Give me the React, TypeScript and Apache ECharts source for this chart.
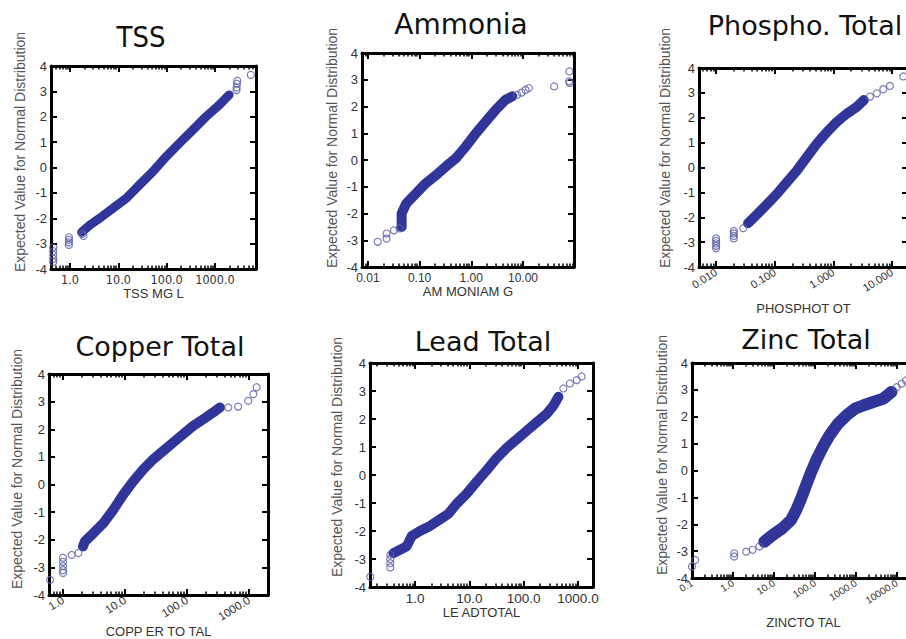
import React, { useEffect, useRef } from "react";
import * as echarts from "echarts";

type Pt = [number, number];

// ---------------- data ----------------
const titles = ["TSS", "Ammonia", "Phospho. Total", "Copper Total", "Lead Total", "Zinc Total"];
const xNames = ["TSS MG L", "AM MONIAM G", "PHOSPHOT OT", "COPP ER TO TAL", "LE ADTOTAL", "ZINCTO TAL"];
const yName = "Expected Value for Normal Distribution";
const yMin = -4;
const yMax = 4;
const yStep = 1;
const xRanges: Pt[] = [
  [0.404, 7060],
  [0.0077, 97],
  [0.0051, 18.7],
  [0.594, 2030],
  [0.148, 1890],
  [0.1, 27500],
];
const xDecimals = [1, 2, 3, 1, 1, 1];
// minor tick multipliers inside each decade
const minorSteps = [2, 3, 4, 5, 6, 7, 8, 9];

// dense band of overlapping circles (centre line of the band)
const tssBand: Pt[] = [
  [1.74, -2.55], [2.6, -2.26], [4.1, -2.0], [7.8, -1.6], [14.7, -1.21], [27.6, -0.68],
  [52, -0.16], [98, 0.43], [184, 0.96], [347, 1.48], [650, 2.0], [1230, 2.47], [1960, 2.86],
];
const tssPts: Pt[] = [
  [0.45, -3.15], [0.45, -3.3], [0.45, -3.45], [0.45, -3.6], [0.45, -3.72],
  [0.95, -2.75], [0.95, -2.85], [0.95, -2.95], [0.95, -3.05],
  [1.78, -2.62], [1.9, -2.7],
  [2800, 3.05], [2800, 3.15], [2850, 3.3], [2900, 3.42], [5500, 3.65],
];

const nh3Band: Pt[] = [
  [0.045, -2.5], [0.045, -2.0], [0.055, -1.63], [0.085, -1.25], [0.13, -0.88], [0.21, -0.56],
  [0.32, -0.25], [0.5, 0.06], [0.78, 0.5], [1.23, 1.0], [1.91, 1.44], [2.98, 1.88],
  [4.6, 2.25], [6.2, 2.38],
];
const nh3Pts: Pt[] = [
  [0.0155, -3.06], [0.023, -2.75], [0.023, -2.94], [0.032, -2.63], [0.041, -2.56],
  [7.7, 2.44], [9.4, 2.52], [11.2, 2.62], [13, 2.69],
  [40, 2.75], [78, 2.94], [79, 3.31], [80, 2.88],
];

const phosBand: Pt[] = [
  [0.035, -2.24], [0.049, -1.9], [0.073, -1.49], [0.107, -1.08], [0.158, -0.61], [0.235, -0.14],
  [0.35, 0.41], [0.52, 0.95], [0.77, 1.42], [1.14, 1.83], [1.7, 2.17], [2.5, 2.44], [3.3, 2.71],
];
const phosPts: Pt[] = [
  [0.01, -2.85], [0.01, -2.95], [0.01, -3.05], [0.01, -3.15], [0.01, -3.25],
  [0.02, -2.55], [0.02, -2.65], [0.02, -2.75], [0.02, -2.85], [0.029, -2.44],
  [4.2, 2.85], [5.5, 2.98], [7.1, 3.15], [9.2, 3.28], [15.5, 3.66],
];

const cuBand: Pt[] = [
  [2.1, -2.24], [2.26, -2.06], [3.1, -1.76], [4.5, -1.39], [6.5, -0.91], [9.4, -0.36],
  [13.6, 0.12], [19.8, 0.55], [28.5, 0.91], [41, 1.21], [60, 1.52], [87, 1.82],
  [126, 2.12], [182, 2.36], [265, 2.61], [340, 2.79],
];
const cuPts: Pt[] = [
  [1.0, -2.65], [1.0, -2.8], [1.0, -2.95], [1.0, -3.1], [1.0, -3.2], [0.62, -3.45],
  [1.38, -2.55], [1.77, -2.48],
  [465, 2.79], [670, 2.82], [975, 3.03], [1180, 3.27], [1330, 3.52],
];

const pbBand: Pt[] = [
  [0.4, -2.79], [0.53, -2.67], [0.7, -2.55], [0.87, -2.18], [1.23, -2.0], [1.89, -1.82],
  [2.9, -1.58], [4.1, -1.39], [5.8, -1.03], [8.9, -0.67], [13.6, -0.24], [21, 0.18],
  [32, 0.61], [49, 0.97], [74, 1.27], [114, 1.58], [173, 1.88], [265, 2.18], [354, 2.48], [436, 2.79],
];
const pbPts: Pt[] = [
  [0.35, -2.85], [0.35, -3.0], [0.35, -3.15], [0.35, -3.3], [0.15, -3.64],
  [537, 3.09], [710, 3.27], [950, 3.39], [1170, 3.52],
];

const znBand: Pt[] = [
  [5.8, -2.65], [9.3, -2.4], [16, -2.15], [26, -1.84], [35, -1.47], [46, -1.04], [61, -0.54],
  [81, -0.05], [107, 0.38], [156, 0.88], [227, 1.31], [363, 1.74], [584, 2.05], [940, 2.3],
  [1490, 2.42], [2620, 2.55], [4600, 2.67], [7330, 2.92],
];
const znPts: Pt[] = [
  [0.12, -3.33], [0.1, -3.57], [1.07, -3.08], [1.07, -3.2], [2.1, -3.02], [3.0, -2.95], [4.4, -2.83],
  [9800, 3.1], [13000, 3.23], [16600, 3.35],
];

const bands: Pt[][] = [tssBand, nh3Band, phosBand, cuBand, pbBand, znBand];
const points: Pt[][] = [tssPts, nh3Pts, phosPts, cuPts, pbPts, znPts];

// ---------------- layout & style ----------------
const layouts = [
  { left: 51, top: 66, width: 205, height: 203, titleX: 141, titleY: 37, yNameX: 20, yNameY: 152, rotate: 0, labelSize: 12.5, labelMargin: 4, nameGap: 17, narrow: true, bandW: 9 },
  { left: 362, top: 53, width: 212, height: 214, titleX: 461, titleY: 24, yNameX: 332, yNameY: 148, rotate: 0, labelSize: 12, labelMargin: 5, nameGap: 18, narrow: false, bandW: 10 },
  { left: 699, top: 68, width: 209, height: 199, titleX: 805, titleY: 25, yNameX: 665, yNameY: 148, rotate: 32, labelSize: 11, labelMargin: 4, nameGap: 35, narrow: false, bandW: 10 },
  { left: 49, top: 374, width: 219, height: 221, titleX: 160, titleY: 346, yNameX: 17, yNameY: 469, rotate: 32, labelSize: 11.5, labelMargin: 4, nameGap: 27, narrow: false, bandW: 10 },
  { left: 370, top: 363, width: 223, height: 224, titleX: 483, titleY: 341, yNameX: 337, yNameY: 457, rotate: 0, labelSize: 13.5, labelMargin: 4, nameGap: 18, narrow: false, bandW: 10 },
  { left: 692, top: 363, width: 223, height: 215, titleX: 806, titleY: 339, yNameX: 662, yNameY: 455, rotate: 32, labelSize: 10, labelMargin: 4, nameGap: 38, narrow: false, bandW: 12 },
];

const BAND = "#313599";
const RING = "#5a5fa8";
const ARIAL = "'Liberation Sans', Arial, sans-serif";
const NARROW = "'Liberation Sans Narrow', 'Arial Narrow', 'DejaVu Sans Condensed', sans-serif";
const GOTHIC = "'DejaVu Sans', sans-serif";

const pow10Label = (d: number) => (v: number) => {
  const l = Math.log10(v);
  return Math.abs(l - Math.round(l)) < 1e-6 ? Math.pow(10, Math.round(l)).toFixed(d) : "";
};

function minorValues(range: Pt): number[] {
  const out: number[] = [];
  const k0 = Math.floor(Math.log10(range[0]));
  const k1 = Math.ceil(Math.log10(range[1]));
  for (let k = k0; k <= k1; k++) {
    for (const m of minorSteps) {
      const v = m * Math.pow(10, k);
      if (v > range[0] && v < range[1]) out.push(v);
    }
  }
  return out;
}

function buildOption() {
  const grid: any[] = [];
  const xAxis: any[] = [];
  const yAxis: any[] = [];
  const series: any[] = [];
  const graphic: any[] = [];
  const frame = { show: true, onZero: false, lineStyle: { color: "#000", width: 3 } };
  const tick = { show: true, inside: true, length: 6, lineStyle: { color: "#000", width: 2 } };

  layouts.forEach((L, i) => {
    grid.push({ left: L.left, top: L.top, width: L.width, height: L.height, containLabel: false, outerBoundsMode: "none" });
    const xCommon = {
      type: "log",
      logBase: 10,
      gridIndex: i,
      min: xRanges[i][0],
      max: xRanges[i][1],
      splitLine: { show: false },
    };
    const minorTickStyle = {
      show: true,
      inside: true,
      length: 3.5,
      customValues: minorValues(xRanges[i]),
      lineStyle: { color: "#000", width: 1.5 },
    };
    // 4i: bottom major with labels
    xAxis.push({
      ...xCommon,
      position: "bottom",
      axisLine: frame,
      axisTick: tick,
      name: xNames[i],
      nameLocation: "middle",
      nameGap: L.nameGap,
      nameTextStyle: { fontSize: 13, fontFamily: ARIAL, color: "#333" },
      axisLabel: {
        show: true,
        rotate: L.rotate,
        margin: L.labelMargin,
        fontSize: L.labelSize,
        fontFamily: L.narrow ? NARROW : ARIAL,
        color: "#333",
        hideOverlap: false,
        formatter: pow10Label(xDecimals[i]),
      },
    });
    // 4i+1: top major
    xAxis.push({ ...xCommon, position: "top", axisLine: frame, axisTick: tick, axisLabel: { show: false } });
    // 4i+2 / 4i+3: minor ticks bottom / top
    xAxis.push({ ...xCommon, position: "bottom", axisLine: { show: false, onZero: false }, axisTick: minorTickStyle, axisLabel: { show: false } });
    xAxis.push({ ...xCommon, position: "top", axisLine: { show: false, onZero: false }, axisTick: minorTickStyle, axisLabel: { show: false } });

    const yCommon = {
      type: "value",
      gridIndex: i,
      min: yMin,
      max: yMax,
      interval: yStep,
      axisLine: frame,
      axisTick: tick,
      splitLine: { show: false },
    };
    yAxis.push({
      ...yCommon,
      position: "left",
      axisLabel: { show: true, margin: 4, fontSize: 13, fontFamily: ARIAL, color: "#333" },
    });
    yAxis.push({ ...yCommon, position: "right", axisLabel: { show: false } });

    series.push({
      type: "line",
      xAxisIndex: 4 * i,
      yAxisIndex: 2 * i,
      data: bands[i],
      showSymbol: false,
      symbol: "none",
      silent: true,
      clip: false,
      z: 2,
      lineStyle: { color: BAND, width: L.bandW, cap: "round", join: "round" },
    });
    series.push({
      type: "scatter",
      xAxisIndex: 4 * i,
      yAxisIndex: 2 * i,
      data: points[i],
      symbol: "circle",
      symbolSize: 7,
      clip: false,
      silent: true,
      z: 3,
      itemStyle: { color: "rgba(255,255,255,0)", borderColor: RING, borderWidth: 1.2 },
    });

    graphic.push({
      type: "text",
      x: L.titleX,
      y: L.titleY,
      style: {
        text: titles[i],
        fontSize: i === 0 ? 29 : i === 1 ? 28 : 27,
        fontFamily: i === 0 ? NARROW : GOTHIC,
        fill: "#111",
        align: "center",
        verticalAlign: "middle",
      },
    });
    graphic.push({
      type: "text",
      x: L.yNameX,
      y: L.yNameY,
      rotation: Math.PI / 2,
      style: {
        text: yName,
        fontSize: 14,
        fontFamily: ARIAL,
        fill: "#555",
        align: "center",
        verticalAlign: "middle",
      },
    });
  });

  return {
    animation: false,
    backgroundColor: "#ffffff",
    grid,
    xAxis,
    yAxis,
    series,
    graphic,
  };
}

export default function App() {
  const ref = useRef<HTMLDivElement>(null);
  useEffect(() => {
    if (!ref.current) return;
    const chart = echarts.init(ref.current, null, { renderer: "svg" });
    chart.setOption(buildOption() as any);
    return () => chart.dispose();
  }, []);
  return (
    <div
      ref={ref}
      style={{ position: "absolute", left: 0, top: 0, width: 906, height: 639, background: "#fff" }}
    />
  );
}
